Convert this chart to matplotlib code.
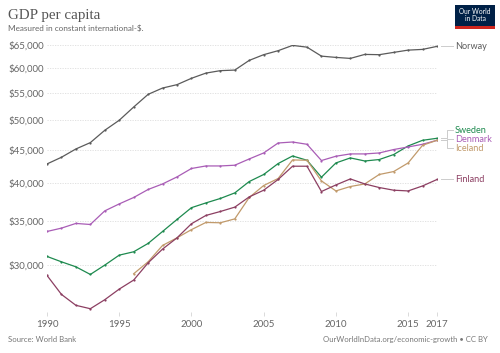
import matplotlib
matplotlib.use("Agg")
import matplotlib.pyplot as plt
from matplotlib.ticker import FixedLocator, FuncFormatter, NullLocator
from matplotlib.patches import Rectangle

plt.rcParams["font.family"] = ["Lato", "DejaVu Sans"]

years = list(range(1990, 2018))
iceland_years = list(range(1996, 2018))

norway = [42830, 43850, 45150, 46170, 48220, 49950, 52330, 54720, 55950, 56620,
          57900, 58970, 59480, 59600, 61670, 62920, 63810, 65010, 64610, 62600,
          62320, 62100, 62980, 62920, 63430, 63940, 64100, 64790]
denmark = [33770, 34170, 34740, 34610, 36310, 37210, 38060, 39150, 39920, 40920,
           42150, 42530, 42530, 42640, 43590, 44520, 46110, 46270, 45900, 43350,
           44010, 44370, 44370, 44520, 45060, 45470, 45900, 46550]
sweden = [30930, 30350, 29820, 29030, 30000, 31070, 31440, 32380, 33770, 35230,
          36720, 37340, 37930, 38680, 40260, 41270, 42890, 44050, 43390, 40880,
          42980, 43750, 43280, 43500, 44270, 45630, 46550, 46880]
finland = [28930, 27060, 26040, 25730, 26560, 27570, 28460, 30240, 31740, 33020,
           34700, 35730, 36230, 36790, 38140, 39050, 40550, 42490, 42490, 38870,
           39780, 40630, 39920, 39420, 39050, 38950, 39640, 40550]
iceland = [29100, 30350, 32150, 33020, 33990, 34860, 34820, 35300, 38060, 39700,
           40690, 43440, 43390, 40350, 38950, 39560, 39920, 41270, 41700, 42980,
           45740, 46550]

y_ticks = [30000, 35000, 40000, 45000, 50000, 55000, 60000, 65000]
x_ticks = [1990, 1995, 2000, 2005, 2010, 2015, 2017]

# name, years, values, colour, label position (value)
series = [
    ("Norway", years, norway, "#5b5b5b", 64790),
    ("Sweden", years, sweden, "#1e8a4f", 48220),
    ("Denmark", years, denmark, "#a95db6", 46720),
    ("Iceland", iceland_years, iceland, "#c19a6b", 45270),
    ("Finland", years, finland, "#8c3f62", 40550),
]

fig = plt.figure(figsize=(5.0, 3.53), dpi=100)
ax = fig.add_axes([0.094, 0.116, 0.78, 0.7565])
ax.set_yscale("log")

for name, xs, ys, col, label_y in series:
    ax.plot(xs, ys, color=col, linewidth=0.9, marker="o", markersize=1.6,
            markeredgewidth=0, zorder=3)
    # connector to the label on the right
    ax.plot([2017.25, 2017.7, 2017.7, 2018.1], [ys[-1], ys[-1], label_y, label_y],
            color="#cccccc", linewidth=0.7, clip_on=False)
    ax.text(2018.25, label_y, name, color=col, fontsize=6.6, va="center", ha="left")

ax.set_xlim(1990, 2017)
ax.set_ylim(25430, 65100)

ax.yaxis.set_major_locator(FixedLocator(y_ticks))
ax.yaxis.set_minor_locator(NullLocator())
ax.yaxis.set_major_formatter(FuncFormatter(lambda v, p: "${:,.0f}".format(v)))
ax.set_xticks(x_ticks)
ax.set_xticklabels([str(x) for x in x_ticks])

ax.grid(axis="y", color="#dddddd", linestyle=(0, (1.5, 1.5)), linewidth=0.6)
for s in ax.spines.values():
    s.set_visible(False)
ax.tick_params(axis="y", length=0, pad=2, labelsize=7, labelcolor="#666666")
ax.tick_params(axis="x", length=3, width=0.5, color="#cccccc", pad=3,
               labelsize=7, labelcolor="#666666")

fig.text(0.016, 0.955, "GDP per capita", fontsize=10.8, color="#555555",
         family=["Liberation Serif", "DejaVu Serif"], va="center")
fig.text(0.016, 0.92, "Measured in constant international-$.", fontsize=5.9,
         color="#666666", va="center")
fig.text(0.016, 0.038, "Source: World Bank", fontsize=5.6, color="#777777", va="center")
fig.text(0.976, 0.038, "OurWorldInData.org/economic-growth \u2022 CC BY", fontsize=5.6,
         color="#777777", va="center", ha="right")

# logo
fig.patches.append(Rectangle((0.91, 0.918), 0.08, 0.068, transform=fig.transFigure,
                             facecolor="#002147", edgecolor="none"))
fig.patches.append(Rectangle((0.91, 0.918), 0.08, 0.008, transform=fig.transFigure,
                             facecolor="#ce261e", edgecolor="none"))
fig.text(0.95, 0.957, "Our World\nin Data", fontsize=4.8, color="white",
         ha="center", va="center", linespacing=1.1)

fig.savefig("out.png", dpi=100)
